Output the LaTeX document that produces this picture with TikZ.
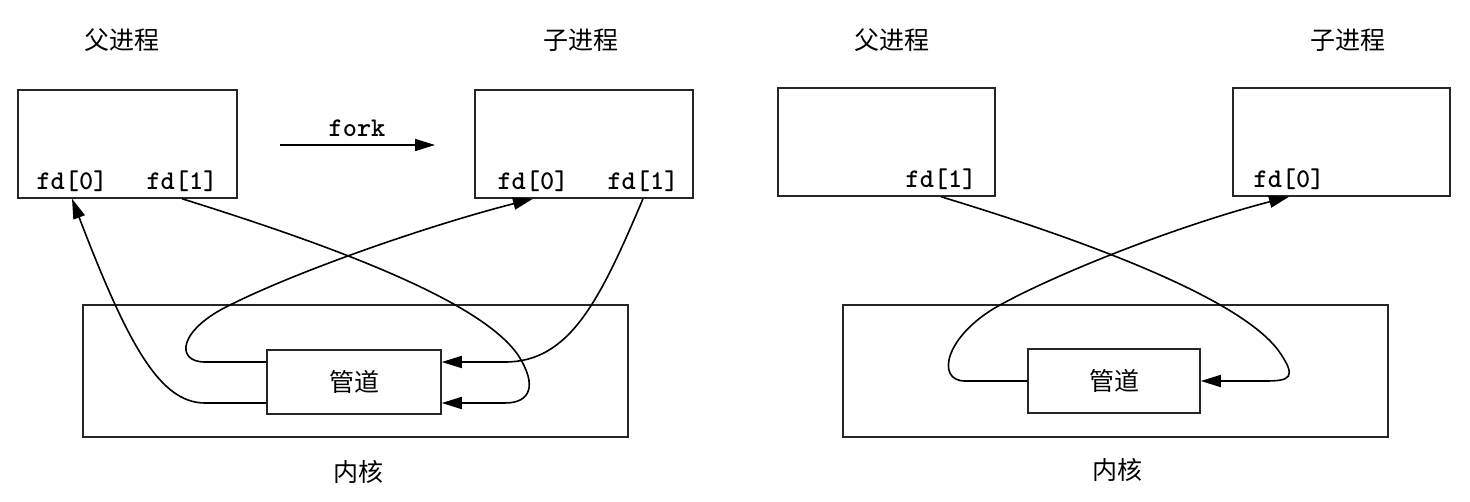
\documentclass[tikz,border=0pt]{standalone}
\usepackage{fontspec}
\newfontfamily\cjk{Noto Sans CJK SC}
\usetikzlibrary{arrows.meta,calc}
\tikzset{
  procbox/.style={draw=black!85, line width=0.75pt, minimum width=#1, minimum height=54pt, inner sep=0pt},
  kernbox/.style={draw=black!85, line width=0.75pt, minimum width=272.5pt, minimum height=66pt, inner sep=0pt},
  pipebox/.style={draw=black!85, line width=0.75pt, minimum width=#1, minimum height=32pt, inner sep=0pt, font=\cjk\fontsize{12.5pt}{14pt}\selectfont},
  cjklabel/.style={font=\cjk\fontsize{12.5pt}{14pt}\selectfont, inner sep=0pt},
  fdlabel/.style={font=\ttfamily\bfseries\fontsize{13.5pt}{15pt}\selectfont, anchor=base, inner sep=0pt},
  conn/.style={line width=0.8pt, -{Triangle[length=10pt,width=6pt]}},
  plain/.style={line width=0.8pt}
}
\begin{document}
\begin{tikzpicture}[x=0.5pt,y=-0.5pt]
\useasboundingbox (0,0) rectangle (1470,502);
% ---------- left diagram ----------
\node[cjklabel] (lpt) at (122,40) {父进程};
\node[cjklabel] (lct) at (581,40) {子进程};
\node[procbox=109.5pt] (p1) at (127.5,144) {};
\node[procbox=109pt] (c1) at (584,144) {};
\node[kernbox] (k1) at (355.5,371) {};
\node[pipebox=87pt] (g1) at (354,382) {管道};
\node[cjklabel] (lkt) at (358,472) {内核};
\node[fdlabel] (a0) at (72,190) {fd[0]};
\node[fdlabel] (a1) at (182,190) {fd[1]};
\node[fdlabel] (b0) at (533,190) {fd[0]};
\node[fdlabel] (b1) at (643,190) {fd[1]};
\node[font=\ttfamily\bfseries\fontsize{13.5pt}{15pt}\selectfont, inner sep=0pt] (fk) at (357,128) {fork};
\coordinate (fks) at (280,145);
\coordinate (fke) at (435,145);
\draw[conn] (fks) -- (fke);
% pipe lower-left -> parent fd[0]
\draw[conn] ($(g1.west)+(0,21)$) -- (205,403) .. controls (160,403) and (128,345) .. (a0 |- p1.south);
% parent fd[1] -> pipe lower-right
\draw[conn] (a1 |- p1.south) .. controls (330,245) and (480,300) .. (518,355) .. controls (538,386) and (530,403) .. (505,403) -- ($(g1.east)+(0,21)$);
% pipe upper-left -> child fd[0]
\draw[conn] ($(g1.west)+(0,-20)$) -- (205,362) .. controls (175,362) and (178,330) .. (230,305) .. controls (300,270) and (430,225) .. (b0 |- c1.south);
% child fd[1] -> pipe upper-right
\draw[conn] (b1 |- c1.south) .. controls (600,300) and (570,362) .. (505,362) -- ($(g1.east)+(0,-20)$);
% ---------- right diagram ----------
\node[cjklabel] (rpt) at (892,40) {父进程};
\node[cjklabel] (rct) at (1348,40) {子进程};
\node[procbox=108.5pt] (p2) at (886.5,142) {};
\node[procbox=108.5pt] (c2) at (1341.5,142) {};
\node[kernbox] (k2) at (1115.5,371) {};
\node[pipebox=86pt] (g2) at (1114,381) {管道};
\node[cjklabel] (rkt) at (1117,470) {内核};
\node[fdlabel] (d1) at (941,188) {fd[1]};
\node[fdlabel] (e0) at (1289,188) {fd[0]};
% parent fd[1] -> pipe right
\draw[conn] (d1 |- p2.south) .. controls (1100,245) and (1240,300) .. (1278,350) .. controls (1298,378) and (1290,381) .. (1265,381) -- (g2.east);
% pipe left -> child fd[0]
\draw[conn] (g2.west) -- (965,381) .. controls (935,381) and (945,335) .. (1000,305) .. controls (1060,272) and (1180,225) .. (e0 |- c2.south);
\end{tikzpicture}
\end{document}
